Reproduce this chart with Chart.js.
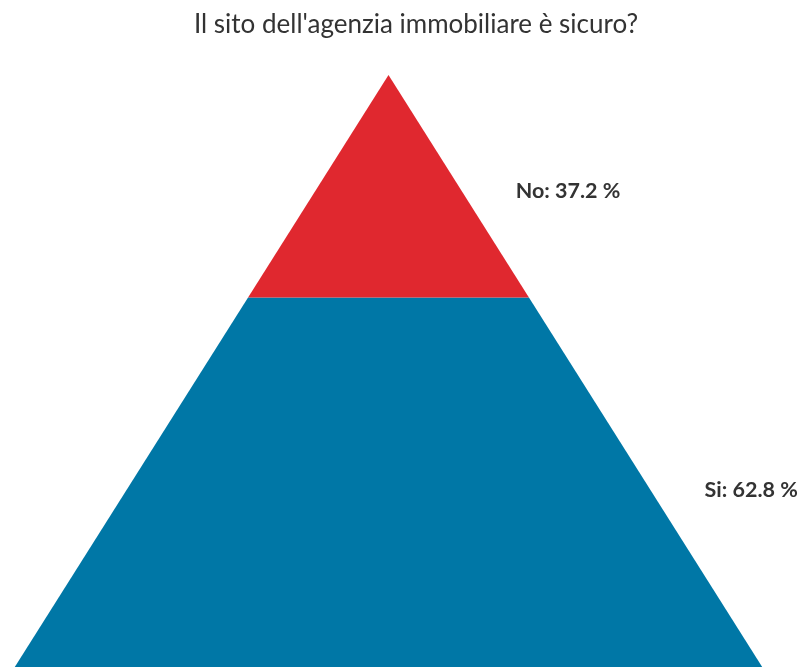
<!DOCTYPE html>
<html>
<head>
<meta charset="utf-8">
<script src="https://cdn.jsdelivr.net/npm/chart.js@4/dist/chart.umd.min.js"></script>
<style>
  html, body { margin: 0; padding: 0; background: #fff; }
  #wrap { width: 801px; height: 667px; }
</style>
</head>
<body>
<div id="wrap"><canvas id="pyramid" width="801" height="667"></canvas></div>
<script>
// pyramid slices, top to bottom
const categories = ["No", "Si"];
const values = [37.2, 62.8];
const colors = ["#e0282f", "#0077a6"];
const chartTitle = "Il sito dell'agenzia immobiliare è sicuro?";

// turn each slice into a polygon: y runs 100 (apex) -> 0 (base), half width grows with depth
function slicePolygon(start, end) {
  const w0 = start / 200;
  const w1 = end / 200;
  return [
    { x: -w0, y: 100 - start },
    { x: w0, y: 100 - start },
    { x: w1, y: 100 - end },
    { x: -w1, y: 100 - end },
  ];
}

let cum = 0;
const datasets = categories.map((cat, i) => {
  const start = cum;
  cum += values[i];
  return {
    label: cat,
    data: slicePolygon(start, cum),
    showLine: true,
    fill: "shape",
    backgroundColor: colors[i],
    borderColor: colors[i],
    borderWidth: 0,
    pointRadius: 0,
    tension: 0,
    _range: [start, cum],
  };
});

// title sits a little right of the pyramid axis
const topTitle = {
  id: "topTitle",
  beforeDraw(chart) {
    const { ctx } = chart;
    ctx.save();
    ctx.font = "26px Lato";
    ctx.fillStyle = "#333333";
    ctx.textAlign = "center";
    ctx.textBaseline = "alphabetic";
    ctx.fillText(chartTitle, 416, 33);
    ctx.restore();
  },
};

const sliceLabels = {
  id: "sliceLabels",
  afterDatasetsDraw(chart) {
    const { ctx, scales } = chart;
    ctx.save();
    ctx.font = "bold 21.5px Lato";
    ctx.fillStyle = "#333333";
    ctx.textAlign = "left";
    ctx.textBaseline = "alphabetic";
    chart.data.datasets.forEach((ds, i) => {
      const [a, b] = ds._range;
      const mid = (a + b) / 2;
      const x = scales.x.getPixelForValue(mid / 200) + 57;
      const y = scales.y.getPixelForValue(100 - mid) + 12;
      ctx.fillText(`${categories[i]}: ${values[i]} %`, x, y);
    });
    ctx.restore();
  },
};

new Chart(document.getElementById("pyramid"), {
  type: "scatter",
  data: { datasets },
  options: {
    responsive: false,
    animation: false,
    layout: { padding: { left: 11, right: 35, bottom: 0, top: 75 } },
    scales: {
      x: { type: "linear", min: -0.5, max: 0.5, display: false },
      y: { type: "linear", min: 1, max: 100, display: false },
    },
    plugins: {
      legend: { display: false },
      tooltip: { enabled: false },
      title: { display: false },
    },
  },
  plugins: [topTitle, sliceLabels],
});
</script>
</body>
</html>
